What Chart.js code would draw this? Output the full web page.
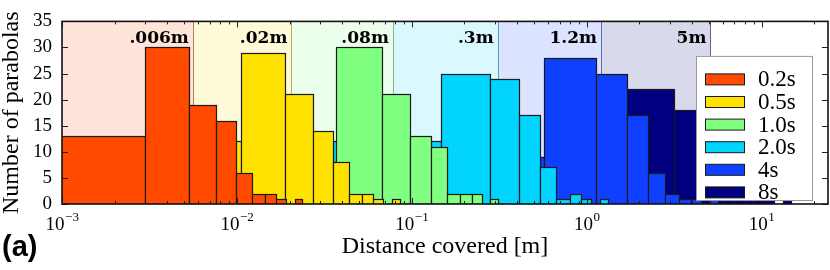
<!DOCTYPE html>
<html>
<head>
<meta charset="utf-8">
<script src="https://cdn.jsdelivr.net/npm/chart.js@4.4.1/dist/chart.umd.min.js"></script>
<style>
  html, body { margin: 0; padding: 0; background: #fff; }
  #wrap { position: relative; width: 830px; height: 270px; }
</style>
</head>
<body>
<div id="wrap"><canvas id="chart"></canvas></div>
<script>
// parabola durations (legend)
const seriesLabels = ['0.2s', '0.5s', '1.0s', '2.0s', '4s', '8s'];
const seriesColors = ['#FF4A00', '#FFE200', '#80FF80', '#00D4FF', '#1040FF', '#000080'];

// each histogram has 10 equal bins: first edge + bin width [m]
const binStarts = [0.0007, 0.0022, 0.0066, 0.0168, 0.005, 0.232];
const binWidths = [0.0023, 0.0083, 0.0305, 0.131, 0.5625, 1.454];

// counts per bin
const counts02 = [13, 30, 19, 16, 6, 2, 2, 1, 0, 1];
const counts05 = [12, 29, 21, 14, 8, 2, 2, 1, 0, 1];
const counts10 = [8, 30, 21, 13, 11, 2, 2, 2, 0, 1];
const counts20 = [12, 25, 24, 17, 7, 1, 2, 1, 0, 1];
const counts4 = [9, 28, 25, 17, 6, 2, 1, 1, 0, 1];
const counts8 = [9, 22, 18, 15, 11, 7, 4, 3, 0, 1];
const allCounts = [counts02, counts05, counts10, counts20, counts4, counts8];

// shaded bands (right edge of each band) and their labels
const regionEdges = [0.0056, 0.0205, 0.078, 0.31, 1.21, 5.1];
const regionLabels = ['.006m', '.02m', '.08m', '.3m', '1.2m', '5m'];

// x tick labels are 10^e
const xTickValues = [0.001, 0.01, 0.1, 1, 10];
const xTickBase = '10';
const xTickExponents = ['−3', '−2', '−1', '0', '1'];
const yTickValues = [0, 5, 10, 15, 20, 25, 30, 35];

const serif = 'Liberation Serif';

const rgba = (hex, a) => {
  const n = parseInt(hex.slice(1), 16);
  return `rgba(${(n >> 16) & 255}, ${(n >> 8) & 255}, ${n & 255}, ${a})`;
};
const darker = (hex, f, a) => {
  const n = parseInt(hex.slice(1), 16);
  const c = [(n >> 16) & 255, (n >> 8) & 255, n & 255].map(v => Math.round(v * f));
  return `rgba(${c[0]}, ${c[1]}, ${c[2]}, ${a})`;
};

// datasets: one point per bin, with the bin edges kept on the point
const datasets = seriesLabels.map((label, s) => ({
  label,
  data: allCounts[s].map((c, i) => ({
    x: binStarts[s] + (i + 0.5) * binWidths[s],
    y: c,
    x0: binStarts[s] + i * binWidths[s],
    x1: binStarts[s] + (i + 1) * binWidths[s],
  })),
  backgroundColor: seriesColors[s],
  borderColor: '#000',
  pointRadius: 0,
  pointHoverRadius: 0,
  showLine: false,
}));

// shaded bands + histogram bars
const histPlugin = {
  id: 'hist',
  beforeDatasetsDraw(chart) {
    const { ctx, chartArea: a, scales: { x, y } } = chart;
    ctx.save();
    ctx.beginPath();
    ctx.rect(a.left, a.top, a.right - a.left, a.bottom - a.top);
    ctx.clip();

    regionEdges.forEach((edge, i) => {
      const from = i === 0 ? x.min : regionEdges[i - 1];
      const p0 = x.getPixelForValue(from);
      const p1 = x.getPixelForValue(edge);
      ctx.fillStyle = rgba(seriesColors[i], 0.15);
      ctx.fillRect(p0, a.top, p1 - p0, a.bottom - a.top);
    });
    regionEdges.forEach((edge, i) => {
      const p = Math.round(x.getPixelForValue(edge)) + 0.5;
      ctx.strokeStyle = darker(seriesColors[i], 0.55, 0.6);
      ctx.lineWidth = 1;
      ctx.beginPath();
      ctx.moveTo(p, a.top);
      ctx.lineTo(p, a.bottom);
      ctx.stroke();
    });

    // longest durations at the back
    for (let s = chart.data.datasets.length - 1; s >= 0; s--) {
      const ds = chart.data.datasets[s];
      ds.data.forEach(p => {
        if (!p.y) return;
        const l = Math.round(x.getPixelForValue(p.x0)) + 0.5;
        const r = Math.round(x.getPixelForValue(p.x1)) + 0.5;
        const t = Math.round(y.getPixelForValue(p.y)) + 0.5;
        const b = Math.round(y.getPixelForValue(0)) + 0.5;
        ctx.fillStyle = ds.backgroundColor;
        ctx.fillRect(l, t, r - l, b - t);
        ctx.strokeStyle = '#1a1a1a';
        ctx.lineWidth = 1.2;
        ctx.strokeRect(l, t, r - l, b - t);
      });
    }
    ctx.restore();
  },
  afterDatasetsDraw(chart) {
    const { ctx, chartArea: a, scales: { x, y } } = chart;
    ctx.save();

    // band labels
    ctx.fillStyle = '#000';
    ctx.font = 'bold 17px "DejaVu Serif"';
    ctx.textAlign = 'right';
    ctx.textBaseline = 'alphabetic';
    regionEdges.forEach((edge, i) => {
      ctx.fillText(regionLabels[i], x.getPixelForValue(edge) - 4, a.top + 22);
    });

    // inward ticks
    ctx.strokeStyle = '#222';
    ctx.lineWidth = 1;
    const lo = Math.floor(Math.log10(x.min));
    const hi = Math.ceil(Math.log10(x.max));
    for (let e = lo; e <= hi; e++) {
      for (let m = 1; m <= 9; m++) {
        const v = m * Math.pow(10, e);
        if (v < x.min || v > x.max) continue;
        const p = Math.round(x.getPixelForValue(v)) + 0.5;
        const len = m === 1 ? 6 : 3;
        ctx.beginPath();
        ctx.moveTo(p, a.bottom); ctx.lineTo(p, a.bottom - len);
        ctx.moveTo(p, a.top); ctx.lineTo(p, a.top + len);
        ctx.stroke();
      }
    }
    yTickValues.forEach(v => {
      const p = Math.round(y.getPixelForValue(v)) + 0.5;
      ctx.beginPath();
      ctx.moveTo(a.left, p); ctx.lineTo(a.left + 6, p);
      ctx.moveTo(a.right, p); ctx.lineTo(a.right - 6, p);
      ctx.stroke();
    });

    // frame
    ctx.strokeStyle = '#111';
    ctx.lineWidth = 1.6;
    ctx.strokeRect(a.left, a.top, a.right - a.left, a.bottom - a.top);
    ctx.restore();
  },
  afterDraw(chart) {
    const { ctx, chartArea: a, scales: { x } } = chart;
    ctx.save();

    // x tick labels 10^e, centred on the tick
    ctx.fillStyle = '#000';
    ctx.textBaseline = 'alphabetic';
    ctx.textAlign = 'left';
    xTickValues.forEach((v, i) => {
      ctx.font = `19px "${serif}"`;
      const wb = ctx.measureText(xTickBase).width;
      ctx.font = `13px "${serif}"`;
      const we = ctx.measureText(xTickExponents[i]).width;
      const x0 = x.getPixelForValue(v) - (wb + we) / 2;
      ctx.font = `19px "${serif}"`;
      ctx.fillText(xTickBase, x0, a.bottom + 26);
      ctx.font = `13px "${serif}"`;
      ctx.fillText(xTickExponents[i], x0 + wb + 0.5, a.bottom + 17);
    });

    // legend box
    const right = a.right - 16, left = right - 116;
    const top = a.top + 34.5, bottom = a.bottom - 4;
    ctx.fillStyle = '#fff';
    ctx.fillRect(left, top, right - left, bottom - top);
    ctx.strokeStyle = '#999';
    ctx.lineWidth = 1;
    ctx.strokeRect(left + 0.5, top + 0.5, right - left, bottom - top);
    ctx.font = `23px "${serif}"`;
    ctx.textAlign = 'left';
    ctx.textBaseline = 'middle';
    chart.data.datasets.forEach((ds, i) => {
      const cy = top + 23.5 + i * 22.6;
      ctx.fillStyle = ds.backgroundColor;
      ctx.fillRect(left + 9, cy - 5.5, 39, 11);
      ctx.strokeStyle = '#1a1a1a';
      ctx.strokeRect(left + 9.5, cy - 5.5, 39, 11);
      ctx.fillStyle = '#000';
      ctx.fillText(ds.label, left + 62, cy + 1);
    });

    // panel tag
    ctx.font = 'bold 29px "Liberation Sans"';
    ctx.textAlign = 'left';
    ctx.textBaseline = 'alphabetic';
    ctx.fillStyle = '#000';
    ctx.fillText('(a)', 2, 256);
    ctx.restore();
  },
};

new Chart(document.getElementById('chart').getContext('2d'), {
  type: 'scatter',
  data: { datasets },
  options: {
    responsive: true,
    maintainAspectRatio: false,
    animation: false,
    events: [],
    layout: { padding: { left: 0, top: 5, right: 2, bottom: 0 } },
    plugins: {
      legend: { display: false },
      tooltip: { enabled: false },
    },
    scales: {
      x: {
        type: 'logarithmic',
        min: 0.001,
        max: 24,
        grid: { display: false, drawTicks: false },
        border: { display: false },
        afterBuildTicks: (s) => { s.ticks = xTickValues.map(v => ({ value: v })); },
        afterFit: (s) => { s.height = 66; },
        ticks: { display: false },
        title: {
          display: true,
          text: 'Distance covered [m]',
          color: '#000',
          font: { family: serif, size: 24, lineHeight: 1.2 },
          padding: { top: 0, bottom: 9 },
        },
      },
      y: {
        min: 0,
        max: 35,
        grid: { display: false, drawTicks: false },
        border: { display: false },
        afterBuildTicks: (s) => { s.ticks = yTickValues.map(v => ({ value: v })); },
        afterFit: (s) => { s.width = 62; },
        ticks: {
          padding: 10,
          color: '#000',
          font: { family: serif, size: 19 },
        },
        title: {
          display: true,
          text: 'Number of parabolas',
          color: '#000',
          font: { family: serif, size: 24, lineHeight: 1.0 },
          padding: { top: 0, bottom: 0 },
        },
      },
    },
  },
  plugins: [histPlugin],
});
</script>
</body>
</html>
